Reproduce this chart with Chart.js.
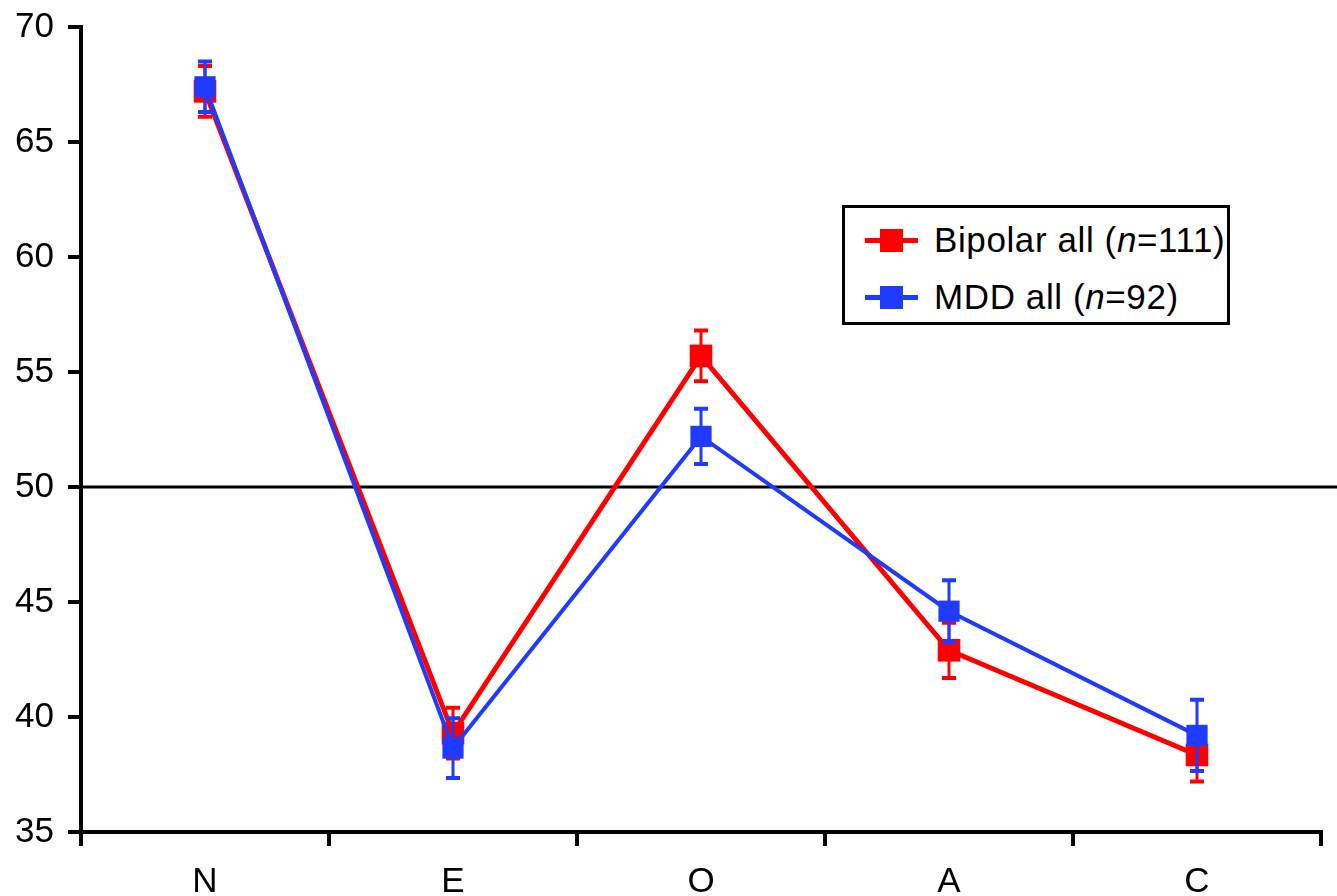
<!DOCTYPE html>
<html>
<head>
<meta charset="utf-8">
<script src="https://cdn.jsdelivr.net/npm/chart.js@4"></script>
<style>
  html, body { margin: 0; padding: 0; background: #fff; }
  #wrap { position: relative; width: 1337px; height: 896px; }
  #legendBox {
    position: absolute; left: 842px; top: 205px; width: 382px; height: 114px;
    border: 3px solid #000; background: #fff;
    font-family: "Liberation Sans", Arial, sans-serif; font-size: 35px; color: #000;
    letter-spacing: 0.6px;
  }
  .row { position: absolute; left: 0; height: 40px; display: flex; align-items: center; white-space: nowrap; }
  .sym { position: relative; width: 53px; height: 40px; margin-left: 20px; margin-right: 16px; }
  .sym .ln { position: absolute; left: 0; right: 0; top: 18px; height: 5px; }
  .sym .sq { position: absolute; left: 15px; top: 9px; width: 23px; height: 23px; }
</style>
</head>
<body>
<div id="wrap">
  <canvas id="chart" width="1337" height="896"></canvas>
  <div id="legendBox">
    <div class="row" style="top:12px">
      <span class="sym"><span class="ln" style="background:#ff0000"></span><span class="sq" style="background:#ff0000"></span></span>
      <span>Bipolar all (<i>n</i>=111)</span>
    </div>
    <div class="row" style="top:69px">
      <span class="sym"><span class="ln" style="background:#1f3bff"></span><span class="sq" style="background:#1f3bff"></span></span>
      <span>MDD all (<i>n</i>=92)</span>
    </div>
  </div>
</div>
<script>
// chart values
const categories = ['N', 'E', 'O', 'A', 'C'];
const bipolarMeans = [67.2, 39.3, 55.7, 42.9, 38.35];
const bipolarErr = [1.1, 1.1, 1.1, 1.2, 1.15];
const mddMeans = [67.4, 38.65, 52.2, 44.6, 39.2];
const mddErr = [1.1, 1.3, 1.2, 1.35, 1.55];
const yMin = 35, yMax = 70, yStep = 5;
const referenceValue = 50;

const FONT = '"Liberation Sans", Arial, sans-serif';

// horizontal line at the reference value
const refLine = {
    id: 'refLine',
    beforeDatasetsDraw(chart) {
        const ctx = chart.ctx;
        const y = chart.scales.y.getPixelForValue(referenceValue);
        ctx.save();
        ctx.strokeStyle = '#000';
        ctx.lineWidth = 3;
        ctx.beginPath();
        ctx.moveTo(chart.chartArea.left, y);
        ctx.lineTo(chart.width, y);
        ctx.stroke();
        ctx.restore();
    }
};

// error bars, drawn under each dataset's line and markers
const errorBars = {
    id: 'errorBars',
    beforeDatasetDraw(chart, args) {
        const ds = chart.data.datasets[args.index];
        const yScale = chart.scales.y;
        const ctx = chart.ctx;
        ctx.save();
        ctx.strokeStyle = ds.borderColor;
        args.meta.data.forEach((pt, j) => {
            const top = yScale.getPixelForValue(ds.data[j] + ds.errors[j]);
            const bot = yScale.getPixelForValue(ds.data[j] - ds.errors[j]);
            ctx.lineWidth = 3;
            ctx.beginPath();
            ctx.moveTo(pt.x, top);
            ctx.lineTo(pt.x, bot);
            ctx.stroke();
            ctx.lineWidth = 4;
            ctx.beginPath();
            ctx.moveTo(pt.x - 7, top);
            ctx.lineTo(pt.x + 7, top);
            ctx.moveTo(pt.x - 7, bot);
            ctx.lineTo(pt.x + 7, bot);
            ctx.stroke();
        });
        ctx.restore();
    }
};

var ctx = document.getElementById('chart').getContext('2d');
var chart = new Chart(ctx, {
    type: 'line',
    data: {
        labels: categories,
        datasets: [{
            label: 'Bipolar all (n=111)',
            data: bipolarMeans,
            errors: bipolarErr,
            borderColor: '#ff0000',
            backgroundColor: '#ff0000',
            borderWidth: 5,
            pointStyle: 'rect',
            pointRadius: 16,
            pointBorderWidth: 0,
            tension: 0,
            order: 1
        }, {
            label: 'MDD all (n=92)',
            data: mddMeans,
            errors: mddErr,
            borderColor: '#1f3bff',
            backgroundColor: '#1f3bff',
            borderWidth: 4,
            pointStyle: 'rect',
            pointRadius: 15,
            pointBorderWidth: 0,
            tension: 0,
            order: 0
        }]
    },
    options: {
        responsive: false,
        animation: false,
        layout: { padding: { top: 27, right: 12, left: 0, bottom: 0 } },
        plugins: {
            legend: { display: false },
            tooltip: { enabled: false }
        },
        scales: {
            x: {
                offset: true,
                grid: { offset: true, drawOnChartArea: false, drawTicks: true, tickLength: 14, color: '#000', lineWidth: 4 },
                border: { display: true, color: '#000', width: 4 },
                ticks: { color: '#000', font: { family: FONT, size: 35 }, padding: 15 },
                afterFit(scale) { scale.height = 64; }
            },
            y: {
                min: yMin,
                max: yMax,
                grid: { drawOnChartArea: false, drawTicks: true, tickLength: 13, color: '#000', lineWidth: 4 },
                border: { display: true, color: '#000', width: 4 },
                ticks: { stepSize: yStep, color: '#000', font: { family: FONT, size: 35 }, padding: 14 },
                afterFit(scale) {
                    scale.width = 81;
                    scale.paddingTop = 0;
                    scale.paddingBottom = 0;
                }
            }
        }
    },
    plugins: [refLine, errorBars]
});
</script>
</body>
</html>
